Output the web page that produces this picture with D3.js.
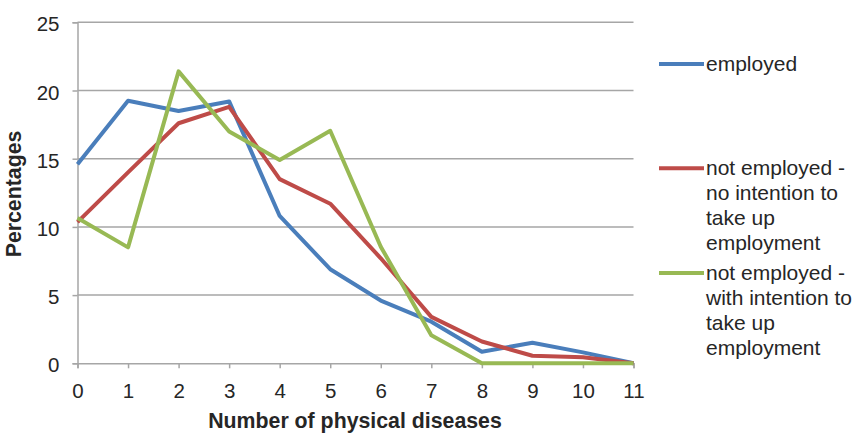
<!DOCTYPE html>
<html>
<head>
<meta charset="utf-8">
<script src="https://cdn.jsdelivr.net/npm/d3@7"></script>
<style>
  body { margin: 0; background: #fff; }
  text { font-family: "Liberation Sans", Arial, sans-serif; fill: #262626; }
</style>
</head>
<body>
<div id="chart"></div>
<script>
// data
var diseaseCounts = [0, 1, 2, 3, 4, 5, 6, 7, 8, 9, 10, 11];
var employed      = [14.6, 19.25, 18.5, 19.2, 10.8, 6.9, 4.6, 3.05, 0.85, 1.5, 0.8, 0];
var noIntention   = [10.35, 14.0, 17.6, 18.8, 13.5, 11.7, 7.7, 3.4, 1.6, 0.55, 0.45, 0];
var withIntention = [10.65, 8.5, 21.4, 17.0, 14.9, 17.05, 8.55, 2.05, 0, 0, 0, 0];
var yTicks = [0, 5, 10, 15, 20, 25];
var legendLines = [["employed"], ["not employed -", "no intention to", "take up", "employment"], ["not employed -", "with intention to", "take up", "employment"]];
var colors = ["#4a7ebb", "#be4b48", "#98b954"];

var svgWidth = 861, svgHeight = 433;
var margin = {top: 22.3, left: 77.5, right: 227.5, bottom: 69.7};
var chartWidth = svgWidth - margin.left - margin.right;
var chartHeight = svgHeight - margin.top - margin.bottom;

var svg = d3.select("#chart").append("svg")
  .attr("width", svgWidth).attr("height", svgHeight);
var chartGroup = svg.append("g")
  .attr("transform", `translate(${margin.left}, ${margin.top})`);

var x = d3.scaleLinear().domain([0, 11]).range([0, chartWidth]);
var y = d3.scaleLinear().domain([0, 25]).range([chartHeight, 0]);

// horizontal gridlines
chartGroup.selectAll("line.grid").data(yTicks.filter(d => d > 0)).enter()
  .append("line").attr("class", "grid")
  .attr("x1", 0).attr("x2", chartWidth)
  .attr("y1", d => y(d)).attr("y2", d => y(d))
  .attr("stroke", "#a6a6a6").attr("stroke-width", 1.5);

// y axis
var leftAxis = d3.axisLeft(y).tickValues(yTicks).tickSize(5).tickPadding(13);
var yAxis = chartGroup.append("g").call(leftAxis);
// x axis
var bottomAxis = d3.axisBottom(x).tickValues(diseaseCounts).tickSize(5).tickPadding(15);
var xAxis = chartGroup.append("g").attr("transform", `translate(0, ${chartHeight})`).call(bottomAxis);

[xAxis, yAxis].forEach(function(ax) {
  ax.select(".domain").attr("stroke", "#a6a6a6").attr("stroke-width", 1.5);
  ax.selectAll(".tick line").attr("stroke", "#a6a6a6").attr("stroke-width", 1.5);
  ax.selectAll(".tick text").style("font-size", "20.5px").style("font-family", "Liberation Sans, Arial, sans-serif").attr("fill", "#262626");
});
yAxis.selectAll(".tick text").attr("dy", "0.42em");

// series lines
var allSeries = [employed, noIntention, withIntention];
var line = d3.line().x((d, i) => x(diseaseCounts[i])).y(d => y(d));
chartGroup.selectAll("path.series").data(allSeries).enter()
  .append("path").attr("class", "series")
  .attr("d", line)
  .attr("fill", "none")
  .attr("stroke", (d, i) => colors[i])
  .attr("stroke-width", 4)
  .attr("stroke-linejoin", "round");

// axis titles
svg.append("text")
  .attr("x", 355).attr("y", 428)
  .attr("text-anchor", "middle")
  .style("font-size", "21.3px").style("font-weight", "bold")
  .text("Number of physical diseases");
svg.append("text")
  .attr("transform", `translate(21, 194) rotate(-90)`)
  .attr("text-anchor", "middle")
  .style("font-size", "21.3px").style("font-weight", "bold")
  .text("Percentages");

// legend
var legendY = [64, 168.3, 273];
var legend = svg.append("g");
legendLines.forEach(function(lines, i) {
  legend.append("line")
    .attr("x1", 659).attr("x2", 704)
    .attr("y1", legendY[i]).attr("y2", legendY[i])
    .attr("stroke", colors[i]).attr("stroke-width", 4);
  var t = legend.append("text").attr("x", 706).attr("y", legendY[i] + 7)
    .style("font-size", "21px");
  lines.forEach(function(s, j) {
    t.append("tspan").attr("x", 706).attr("dy", j === 0 ? 0 : 25).text(s);
  });
});
</script>
</body>
</html>
